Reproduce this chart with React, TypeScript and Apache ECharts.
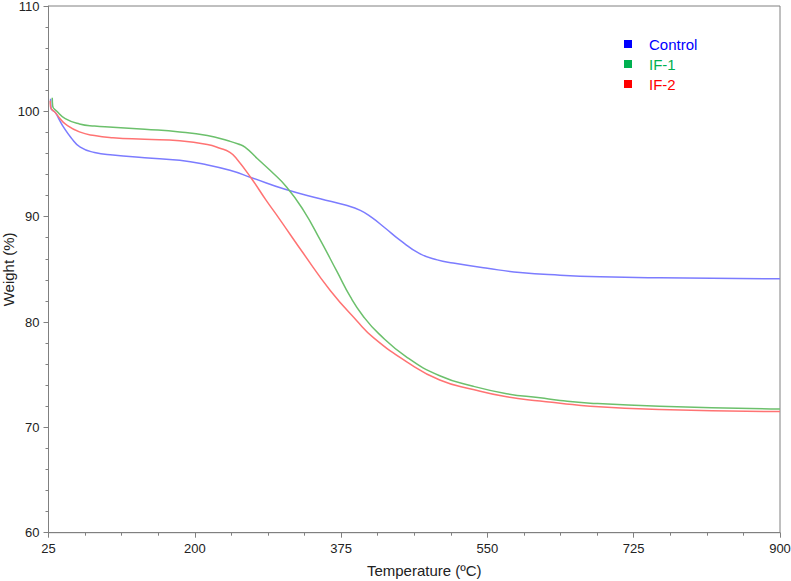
import React, { useEffect, useRef } from "react";
import * as echarts from "echarts";

const seriesNames = ["Control", "IF-1", "IF-2"];
const legendColors = ["#0000ff", "#00b050", "#ff0000"];
const lineColors = ["#7c7cff", "#6cc06c", "#ff7373"];

const controlData: [number, number][] = [
  [27.5, 101.2], [28, 100.3], [33, 99.9], [38, 99.2], [43, 98.5], [52, 97.5], [63, 96.6], [80, 96.1],
  [102, 95.85], [140, 95.6], [182, 95.35], [210, 95.0], [242, 94.4], [268, 93.7], [308, 92.6],
  [350, 91.7], [380, 91.1], [398, 90.6], [412, 89.9], [428, 88.9], [445, 87.8], [469, 86.5],
  [490, 85.9], [509, 85.6], [550, 85.1], [589, 84.7], [637, 84.45], [685, 84.3], [756, 84.2], [900, 84.1],
];

const if1Data: [number, number][] = [
  [29.5, 101.3], [30, 100.5], [35, 100.0], [45, 99.3], [62, 98.8], [80, 98.6], [102, 98.5],
  [140, 98.3], [182, 98.05], [215, 97.7], [240, 97.2], [252, 96.9], [260, 96.6], [275, 95.5],
  [290, 94.4], [310, 92.8], [330, 90.6], [350, 87.8], [370, 84.8], [386, 82.4], [401, 80.6],
  [420, 78.9], [453, 76.7], [493, 74.9], [533, 73.9], [573, 73.2], [613, 72.8], [637, 72.55],
  [673, 72.3], [756, 72.0], [900, 71.75],
];

const if2Data: [number, number][] = [
  [27, 101.0], [27.5, 100.4], [33, 99.9], [39, 99.3], [45, 98.8], [62, 98.05], [80, 97.7], [102, 97.5],
  [140, 97.35], [182, 97.2], [215, 96.85], [230, 96.5], [242, 96.1], [250, 95.5], [268, 93.6],
  [285, 91.6], [302, 89.7], [330, 86.5], [362, 83.0], [394, 80.1], [414, 78.5],
  [454, 76.2], [493, 74.5], [533, 73.6], [573, 72.9], [613, 72.5], [637, 72.3], [673, 72.0],
  [756, 71.7], [900, 71.5],
];

const xMajorTicks = [25, 200, 375, 550, 725, 900];
const xMinorTicks = [
  68.75, 112.5, 156.25, 243.75, 287.5, 331.25, 418.75, 462.5, 506.25,
  593.75, 637.5, 681.25, 768.75, 812.5, 856.25,
];

const AXIS_COLOR = "#808080";
const LABEL_COLOR = "#222";
const FONT = "'Liberation Sans', Arial, sans-serif";

export default function App() {
  const ref = useRef<HTMLDivElement>(null);

  useEffect(() => {
    if (!ref.current) return;
    const chart = echarts.init(ref.current, null, { renderer: "svg" });
    const allData = [controlData, if1Data, if2Data];
    chart.setOption({
      animation: false,
      backgroundColor: "#fff",
      textStyle: { fontFamily: FONT },
      grid: {
        left: 48.5,
        right: 11,
        top: 6,
        bottom: 48.3,
        show: true,
        borderColor: AXIS_COLOR,
        borderWidth: 1,
        containLabel: false,
        outerBoundsMode: "none",
      },
      legend: {
        orient: "vertical",
        left: 619,
        top: 31.5,
        itemWidth: 8,
        itemHeight: 8,
        itemGap: 5,
        icon: "rect",
        textStyle: { fontSize: 15, fontFamily: FONT, padding: [0, 0, 0, 12] },
        data: seriesNames.map((n, i) => ({
          name: n,
          itemStyle: { color: legendColors[i] },
          textStyle: { color: legendColors[i], fontFamily: FONT, fontSize: 15 },
        })),
      },
      xAxis: [
        {
          type: "value",
          min: 25,
          max: 900,
          name: "Temperature (ºC)",
          nameLocation: "middle",
          nameGap: 30,
          nameMoveOverlap: false,
          nameTextStyle: { fontSize: 15, color: LABEL_COLOR, fontFamily: FONT, verticalAlign: "top", padding: [0, 0, 0, 20] },
          axisLine: { show: true, lineStyle: { color: AXIS_COLOR, width: 1 } },
          axisTick: { show: true, customValues: xMajorTicks, length: 5, lineStyle: { color: AXIS_COLOR } },
          axisLabel: { customValues: xMajorTicks, fontSize: 13, color: LABEL_COLOR, fontFamily: FONT, margin: 9 },
          splitLine: { show: false },
        },
        {
          type: "value",
          min: 25,
          max: 900,
          position: "bottom",
          axisLine: { show: false },
          axisTick: { show: true, customValues: xMinorTicks, length: 3, lineStyle: { color: AXIS_COLOR } },
          axisLabel: { show: false },
          splitLine: { show: false },
        },
      ],
      yAxis: {
        type: "value",
        min: 60,
        max: 110,
        interval: 10,
        name: "Weight (%)",
        nameLocation: "middle",
        nameGap: 33,
        nameMoveOverlap: false,
        nameTextStyle: { fontSize: 15, color: LABEL_COLOR, fontFamily: FONT },
        axisLine: { show: true, lineStyle: { color: AXIS_COLOR, width: 1 } },
        axisTick: { show: true, length: 5, lineStyle: { color: AXIS_COLOR } },
        minorTick: { show: true, splitNumber: 5, length: 3, lineStyle: { color: AXIS_COLOR } },
        axisLabel: { fontSize: 13, color: LABEL_COLOR, fontFamily: FONT, margin: 9 },
        splitLine: { show: false },
        minorSplitLine: { show: false },
      },
      series: seriesNames.map((n, i) => ({
        name: n,
        type: "line",
        xAxisIndex: 0,
        data: allData[i],
        showSymbol: false,
        smooth: 0.5,
        color: legendColors[i],
        lineStyle: { color: lineColors[i], width: 1.5 },
      })),
    });
    return () => chart.dispose();
  }, []);

  return <div ref={ref} style={{ width: 791, height: 581, position: "absolute", left: 0, top: 0 }} />;
}
